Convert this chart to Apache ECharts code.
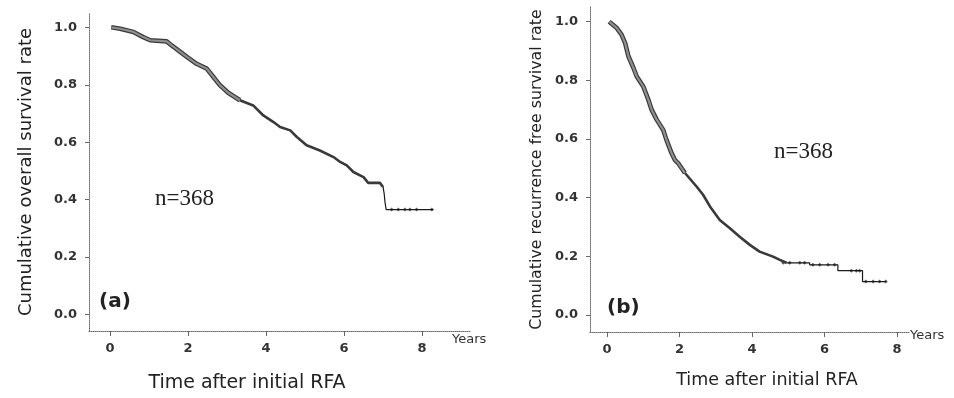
<!DOCTYPE html>
<html>
<head>
<meta charset="utf-8">
<script src="https://cdn.jsdelivr.net/npm/echarts@6/dist/echarts.min.js"></script>
<style>html,body{margin:0;padding:0;background:#fff}#c{width:954px;height:398px}</style>
</head>
<body>
<div id="c"></div>
<script>
// (a) overall survival: points (time in years, survival)
const osTime = [0.03, 0.26, 0.6, 0.85, 1.03, 1.45, 1.58, 1.75, 1.97, 2.22, 2.48, 2.65, 2.82, 3.03, 3.33, 3.67, 3.93, 4.19, 4.36, 4.62, 4.79, 5.04, 5.38, 5.73, 5.9, 6.07, 6.24, 6.5, 6.62, 6.92, 7.0, 7.03, 7.05, 7.08, 8.29];
const osSurv = [1.0, 0.995, 0.984, 0.966, 0.955, 0.951, 0.937, 0.92, 0.897, 0.873, 0.856, 0.827, 0.798, 0.772, 0.746, 0.728, 0.693, 0.67, 0.653, 0.641, 0.618, 0.589, 0.571, 0.548, 0.531, 0.519, 0.496, 0.478, 0.458, 0.458, 0.444, 0.42, 0.391, 0.365, 0.365];
const osCensorTime = [7.22, 7.39, 7.56, 7.69, 7.86, 8.25];
const osCensorSurv = [0.365, 0.365, 0.365, 0.365, 0.365, 0.365];

// (b) recurrence-free survival
const rfsTime = [0.06, 0.27, 0.4, 0.5, 0.59, 0.73, 0.82, 1.0, 1.14, 1.23, 1.37, 1.55, 1.64, 1.78, 1.87, 1.96, 2.15, 2.47, 2.65, 2.84, 3.11, 3.39, 3.66, 3.94, 4.21, 4.58, 4.77, 4.95, 5.59, 5.59, 6.37, 6.37, 7.05, 7.05, 7.7];
const rfsSurv = [1.0, 0.978, 0.956, 0.927, 0.882, 0.842, 0.813, 0.779, 0.734, 0.7, 0.666, 0.631, 0.597, 0.552, 0.529, 0.518, 0.484, 0.438, 0.41, 0.37, 0.324, 0.296, 0.267, 0.239, 0.216, 0.199, 0.188, 0.178, 0.178, 0.171, 0.171, 0.151, 0.151, 0.114, 0.114];
const rfsCensorTime = [4.86, 5.04, 5.32, 5.45, 5.68, 5.87, 6.1, 6.28, 6.74, 6.88, 6.97, 7.14, 7.34, 7.52, 7.69];
const rfsCensorSurv = [0.178, 0.178, 0.178, 0.178, 0.171, 0.171, 0.171, 0.171, 0.151, 0.151, 0.151, 0.114, 0.114, 0.114, 0.114];

const xTicks = [0, 2, 4, 6, 8];
const yTicks = [0, 0.2, 0.4, 0.6, 0.8, 1.0];

const pairs = (t, s) => t.map((v, i) => [v, s[i]]);
const upto = (t, s, hi) => pairs(t, s).filter(p => p[0] <= hi);

const tickFont = {fontFamily: 'DejaVu Sans', fontWeight: 'bold', fontSize: 13, color: '#333'};

function xAx(idx, min, max) {
  return {
    type: 'value', gridIndex: idx, min: min, max: max,
    splitLine: {show: false},
    axisLine: {show: true, onZero: false, lineStyle: {color: '#666', type: 'dotted', width: 1}},
    axisTick: {show: true, customValues: xTicks, length: 5, lineStyle: {color: '#666'}},
    axisLabel: Object.assign({customValues: xTicks, margin: 11}, tickFont)
  };
}
function yAx(idx, name, fs, gap) {
  return {
    type: 'value', gridIndex: idx, min: -0.058, max: 1.05,
    splitLine: {show: false},
    axisLine: {show: true, onZero: false, lineStyle: {color: '#666', type: 'dotted', width: 1}},
    axisTick: {show: true, customValues: yTicks, length: 4, lineStyle: {color: '#666'}},
    axisLabel: Object.assign({customValues: yTicks, margin: 12, formatter: v => v.toFixed(1)}, tickFont),
    name: name, nameLocation: 'middle', nameRotate: 90, nameGap: gap,
    nameTextStyle: {fontFamily: 'DejaVu Sans', fontSize: fs, color: '#222'}
  };
}

function curveSeries(idx, t, s, thickHi, midHi, cT, cS) {
  const base = {type: 'line', xAxisIndex: idx, yAxisIndex: idx, symbol: 'none', silent: true, animation: false};
  return [
    Object.assign({}, base, {data: pairs(t, s), lineStyle: {color: '#1a1a1a', width: 1.2}}),
    Object.assign({}, base, {data: upto(t, s, midHi), lineStyle: {color: '#3a3a3a', width: 2.6}}),
    Object.assign({}, base, {data: upto(t, s, thickHi), lineStyle: {color: '#3a3a3a', width: 4.6}}),
    Object.assign({}, base, {data: upto(t, s, thickHi), lineStyle: {color: '#8f8f8f', width: 2.2}}),
    {type: 'scatter', xAxisIndex: idx, yAxisIndex: idx, data: pairs(cT, cS), symbol: 'diamond', symbolSize: 4, itemStyle: {color: '#333'}, silent: true, animation: false}
  ];
}

const chart = echarts.init(document.getElementById('c'), null, {renderer: 'canvas'});
chart.setOption({
  backgroundColor: '#fff',
  animation: false,
  grid: [
    {left: 89, width: 381, top: 13, height: 318},
    {left: 590, width: 320, top: 7, height: 325}
  ],
  xAxis: [
    Object.assign(xAx(0, -0.54, 9.23), {name: 'Years', nameLocation: 'end', nameGap: -18,
      nameTextStyle: {fontFamily: 'DejaVu Sans', fontSize: 13, color: '#333', align: 'left', verticalAlign: 'top', padding: [2, 0, 0, 0]}}),
    Object.assign(xAx(1, -0.47, 8.36), {name: 'Years', nameLocation: 'end', nameGap: 0,
      nameTextStyle: {fontFamily: 'DejaVu Sans', fontSize: 13, color: '#333', align: 'left', verticalAlign: 'top', padding: [-3, 0, 0, 0]}})
  ],
  yAxis: [
    yAx(0, 'Cumulative overall survival rate', 18, 54),
    yAx(1, 'Cumulative recurrence free survival rate', 15.8, 45)
  ],
  series: [].concat(
    curveSeries(0, osTime, osSurv, 3.4, 7.0, osCensorTime, osCensorSurv),
    curveSeries(1, rfsTime, rfsSurv, 2.2, 4.95, rfsCensorTime, rfsCensorSurv)
  ),
  graphic: [
    {type: 'text', x: 155, y: 187, style: {text: 'n=368', font: '23px "Liberation Serif"', fill: '#222'}},
    {type: 'text', x: 774, y: 140, style: {text: 'n=368', font: '23px "Liberation Serif"', fill: '#222'}},
    {type: 'text', x: 99, y: 292, style: {text: '(a)', font: 'bold 20px "DejaVu Sans"', fill: '#222'}},
    {type: 'text', x: 607, y: 298, style: {text: '(b)', font: 'bold 20px "DejaVu Sans"', fill: '#222'}},
    {type: 'text', x: 247, y: 383, style: {text: 'Time after initial RFA', font: '19px "DejaVu Sans"', fill: '#222', align: 'center', verticalAlign: 'middle'}},
    {type: 'text', x: 767, y: 380, style: {text: 'Time after initial RFA', font: '17.5px "DejaVu Sans"', fill: '#222', align: 'center', verticalAlign: 'middle'}}
  ]
});
</script>
</body>
</html>
